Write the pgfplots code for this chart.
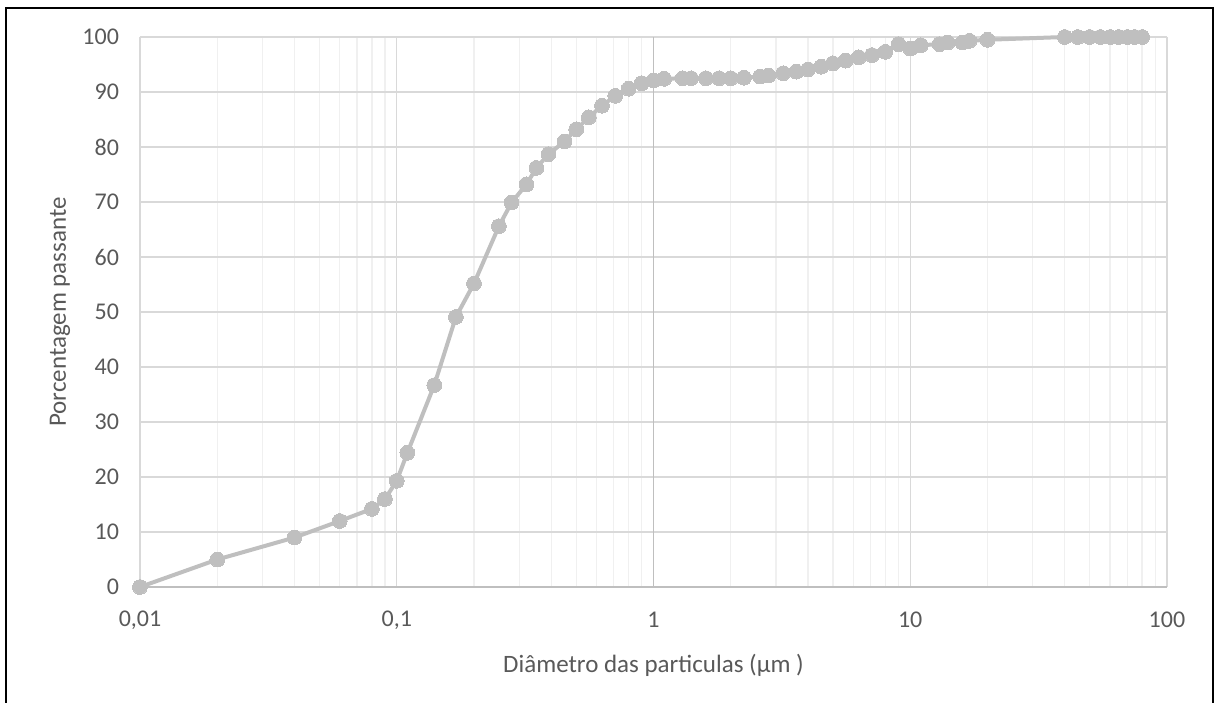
\documentclass[border=0pt]{standalone}
\usepackage{pgfplots}
\pgfplotsset{compat=1.18}
\usepackage{fontspec}
\setmainfont{Carlito}
\definecolor{txt}{HTML}{595959}
\definecolor{ser}{HTML}{BFBFBF}
\definecolor{gmaj}{HTML}{D9D9D9}
\definecolor{gmin}{HTML}{F0F0F0}
\begin{document}
\begin{tikzpicture}
\useasboundingbox (-70pt,-57.5pt) rectangle (538pt,293.5pt);
\begin{axis}[
  at={(0,0)}, anchor=south west,
  scale only axis,
  width=513.5pt, height=275pt,
  xmode=log, log basis x=10,
  xmin=0.01, xmax=100, ymin=0, ymax=100,
  xtick={0.01,0.1,1,10,100},
  xticklabels={{0,01},{0,1},{1},{10},{100}},
  ytick={0,10,...,100},
  minor xtick={0.02,0.03,0.04,0.05,0.06,0.07,0.08,0.09,0.2,0.3,0.4,0.5,0.6,0.7,0.8,0.9,2,3,4,5,6,7,8,9,20,30,40,50,60,70,80,90},
  grid=both,
  major grid style={gmaj, line width=0.65pt},
  minor grid style={gmin, line width=0.65pt},
  axis line style={draw=none},
  tick style={draw=none},
  extra x ticks={1},
  extra x tick labels={},
  extra x tick style={grid=major, major grid style={ser, line width=0.65pt}},
  extra y ticks={0},
  extra y tick labels={},
  extra y tick style={grid=major, major grid style={ser, line width=0.75pt}},
  tick label style={font=\fontsize{12}{14}\selectfont, text=txt},
  /pgf/number format/assume math mode=true,
  xticklabel style={anchor=center, yshift=-16.5pt},
  yticklabel style={anchor=east, xshift=-7pt},
  xlabel={Diâmetro das particulas (µm )},
  ylabel={Porcentagem passante},
  label style={font=\fontsize{12.5}{15}\selectfont, text=txt},
  xlabel style={at={(axis description cs:0.5,-0.142)}, anchor=center},
  ylabel style={at={(axis description cs:-0.078,0.5)}, anchor=center},
  clip=false,
]
\addplot[ser, line width=2pt, mark=*, mark size=3.7pt, mark options={fill=ser, draw=ser, line width=0pt}] coordinates {
(0.01,0) (0.02,5.0) (0.04,9.0) (0.06,12.0) (0.08,14.2) (0.09,16.0) (0.1,19.3) (0.11,24.4)
(0.14,36.7) (0.17,49.1) (0.2,55.2) (0.25,65.6) (0.28,69.9) (0.32,73.2) (0.35,76.2)
(0.39,78.7) (0.45,81.0) (0.5,83.2) (0.56,85.4) (0.63,87.5) (0.71,89.3) (0.8,90.6)
(0.9,91.6) (1.0,92.1) (1.1,92.4) (1.3,92.5) (1.4,92.5) (1.6,92.5) (1.8,92.5) (2.0,92.5)
(2.25,92.6) (2.6,92.8) (2.8,93.0) (3.2,93.4) (3.6,93.7) (4.0,94.1) (4.5,94.6) (5.0,95.2)
(5.6,95.7) (6.3,96.3) (7.1,96.7) (8.0,97.3) (9.0,98.7) (10,97.9) (11,98.5) (13,98.7)
(14,99.0) (16,99.0) (17,99.3) (20,99.5) (40,100) (45,100) (50,100) (55,100) (60,100)
(65,100) (70,100) (75,100) (80,100)
};
\end{axis}
\draw[black, line width=1pt] (-67pt,-60pt) -- (-67pt,289.5pt) -- (536.5pt,289.5pt) -- (536.5pt,-60pt);
\end{tikzpicture}
\end{document}
